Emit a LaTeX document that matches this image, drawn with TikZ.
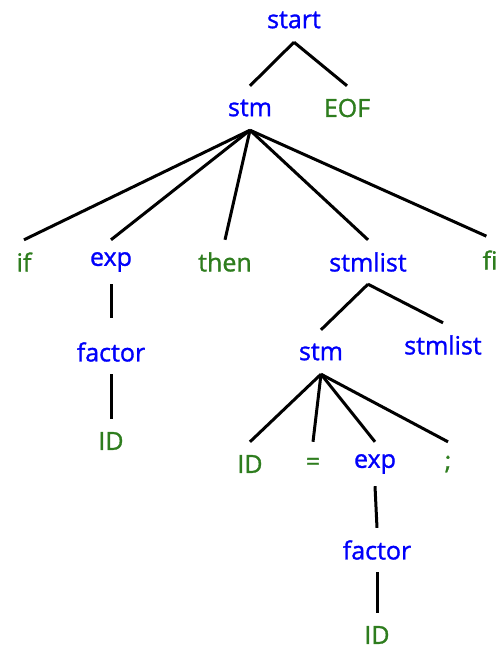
\documentclass[tikz,border=0pt]{standalone}
\usepackage{fontspec}
\setmainfont{Open Sans}[FakeBold=1.2]
\definecolor{ntblue}{RGB}{0,0,250}
\definecolor{tgreen}{RGB}{46,125,30}
\tikzset{
  sym/.style={inner sep=0pt, minimum height=44pt, font=\fontsize{25}{29}\selectfont},
  nonterm/.style={sym, text=ntblue},
  term/.style={sym, text=tgreen},
  edge/.style={draw=black, line width=3pt}
}
\begin{document}
\begin{tikzpicture}[x=1pt,y=-1pt]
\useasboundingbox (0,0) rectangle (499,650);
% grammar symbols
\node[nonterm] (start)   at (294,20)  {start};
\node[nonterm] (stm)     at (250,108) {stm};
\node[term]    (eof)     at (347,108) {EOF};
\node[term]    (if)      at (24,262)  {if};
\node[nonterm] (exp)     at (111,262) {exp};
\node[term]    (then)    at (225,262) {then};
\node[nonterm] (slist)   at (368,262) {stmlist};
\node[term]    (fi)      at (490,260) {fi};
\node[nonterm] (factor)  at (111,352) {factor};
\node[term]    (id)      at (111,441) {ID};
\node[nonterm] (stmb)    at (321,352) {stm};
\node[nonterm] (slistb)  at (443,345) {stmlist};
\node[term]    (idb)     at (250,464) {ID};
\node[term]    (eq)      at (313,464) {=};
\node[nonterm] (expb)    at (375,464) {exp};
\node[term]    (semi)    at (448,464) {;};
\node[nonterm] (factorb) at (377,550) {factor};
\node[term]    (idc)     at (377,635) {ID};
% derivation edges
\draw[edge] (start.south) -- (stm.north);
\draw[edge] (start.south) -- (eof.north);
\foreach \c in {if,exp,then,slist}
  \draw[edge] (stm.south) -- (\c.north);
\draw[edge, shorten >=4pt] (stm.south) -- (fi.north);
\draw[edge, shorten >=12pt] (exp.south) -- (factor.north);
\draw[edge] (factor.south) -- (id.north);
\draw[edge] (slist.south) -- (stmb.north);
\draw[edge] (slist.south) -- (slistb.north);
\foreach \c in {idb,eq,expb,semi}
  \draw[edge] (stmb.south) -- (\c.north);
\draw[edge] (expb.south) -- (factorb.north);
\draw[edge] (factorb.south) -- (idc.north);
\end{tikzpicture}
\end{document}
